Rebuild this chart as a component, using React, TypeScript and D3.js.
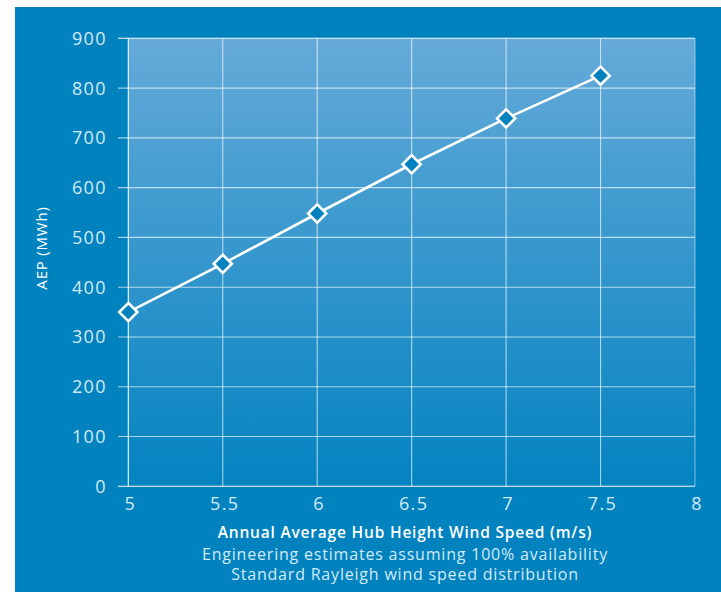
import * as d3 from "d3";

// wind speed (m/s) and annual energy production (MWh)
const windSpeeds = [5, 5.5, 6, 6.5, 7, 7.5];
const aepValues = [350, 447, 548, 647, 739, 825];
const xTicks = [5, 5.5, 6, 6.5, 7, 7.5, 8];
const yTicks = [0, 100, 200, 300, 400, 500, 600, 700, 800, 900];
const notes = [
  "Engineering estimates assuming 100% availability",
  "Standard Rayleigh wind speed distribution",
];

const W = 721;
const H = 592;
const BG = "#0082bf";
const FONT = "'Open Sans', sans-serif";

export default function App() {
  const x = d3.scaleLinear().domain([5, 8]).range([128.3, 695]);
  const y = d3.scaleLinear().domain([0, 900]).range([486.3, 38.3]);

  const points = windSpeeds.map((s, i) => [x(s), y(aepValues[i])] as [number, number]);
  const line = d3.line()(points) || "";
  const diamond = d3.symbol().type(d3.symbolDiamond2).size(210)() || "";

  return (
    <div style={{ position: "absolute", left: 0, top: 0 }}>
      <svg width={W} height={H} style={{ display: "block" }}>
        <defs>
          <linearGradient id="plotBg" x1="0" y1="0" x2="0" y2="1">
            <stop offset="0%" stopColor="#65aad8" />
            <stop offset="100%" stopColor="#0383c1" />
          </linearGradient>
        </defs>
        <rect x={0} y={0} width={W} height={H} fill="#ffffff" />
        <rect x={15} y={7} width={W - 15} height={H - 7} fill={BG} />
        <rect
          x={x(5)}
          y={y(900)}
          width={x(8) - x(5)}
          height={y(0) - y(900)}
          fill="url(#plotBg)"
        />

        {/* horizontal grid + y ticks */}
        {yTicks.map((t) => (
          <g key={"y" + t}>
            <line
              x1={118}
              x2={x(8)}
              y1={y(t)}
              y2={y(t)}
              stroke="#ffffff"
              strokeOpacity={t === 0 || t === 900 ? 0.95 : 0.65}
              strokeWidth={1.1}
            />
            <text
              x={107}
              y={y(t)}
              dy="0.36em"
              textAnchor="end"
              fill="#d4eaf6"
              fontFamily={FONT}
              fontSize={18}
              letterSpacing={1.4}
            >
              {t}
            </text>
          </g>
        ))}

        {/* vertical grid + x ticks */}
        {xTicks.map((t) => (
          <g key={"x" + t}>
            <line
              x1={x(t)}
              x2={x(t)}
              y1={y(900)}
              y2={y(0)}
              stroke="#ffffff"
              strokeOpacity={t === 5 ? 0.95 : t === 8 ? 0.45 : 0.65}
              strokeWidth={1.1}
            />
            <text
              x={x(t) + 2}
              y={510}
              textAnchor="middle"
              fill="#d4eaf6"
              fontFamily={FONT}
              fontSize={18}
              letterSpacing={1.4}
            >
              {t}
            </text>
          </g>
        ))}

        <path d={line} fill="none" stroke="#ffffff" strokeWidth={2.6} />
        {points.map(([px, py], i) => (
          <path
            key={"m" + i}
            d={diamond}
            transform={`translate(${px},${py})`}
            fill={BG}
            stroke="#ffffff"
            strokeWidth={2.6}
          />
        ))}

        <text
          transform="translate(47,248) rotate(-90)"
          textAnchor="middle"
          fill="#ffffff"
          fontFamily={FONT}
          fontSize={15}
          letterSpacing={0.8}
        >
          AEP (MWh)
        </text>

        <text
          x={405}
          y={538}
          textAnchor="middle"
          fill="#ffffff"
          fontFamily={FONT}
          fontSize={15.5}
          fontWeight={600}
          letterSpacing={0.8}
        >
          Annual Average Hub Height Wind Speed (m/s)
        </text>
        {notes.map((n, i) => (
          <text
            key={n}
            x={405}
            y={560 + i * 20}
            textAnchor="middle"
            fill="#d4eaf6"
            fontFamily={FONT}
            fontSize={16}
            letterSpacing={0.8}
          >
            {n}
          </text>
        ))}
      </svg>
    </div>
  );
}
